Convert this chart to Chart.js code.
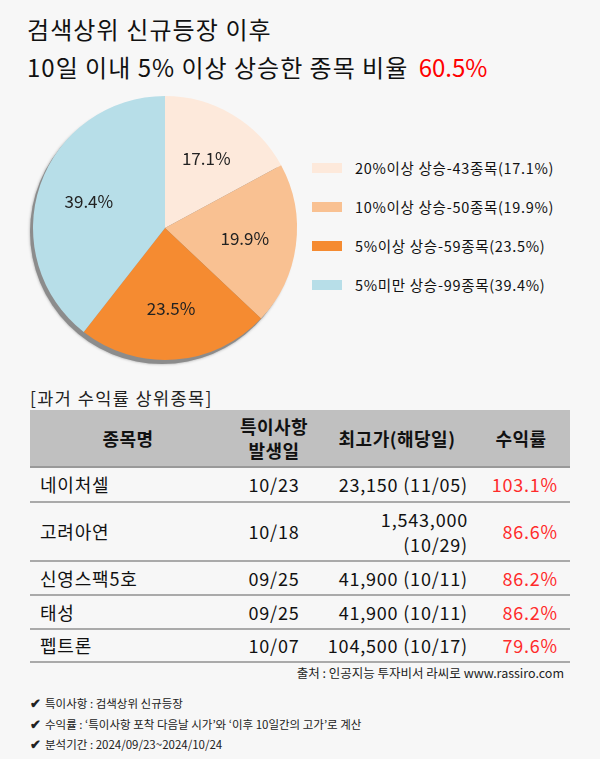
<!DOCTYPE html>
<html>
<head>
<meta charset="utf-8">
<script src="https://cdn.jsdelivr.net/npm/chart.js@4.4.0/dist/chart.umd.min.js"></script>
<style>
  body { margin: 0; background: #f7f7f7; font-family: "Noto Sans CJK KR", "Noto Sans", sans-serif; color: #111; }
  #wrap { position: relative; width: 600px; height: 759px; overflow: hidden; }
  .t1 { position: absolute; left: 27px; top: 11px; font-size: 24px; letter-spacing: 1.1px; white-space: nowrap; }
  .t2 { position: absolute; left: 27px; top: 49px; font-size: 24px; letter-spacing: 1px; white-space: nowrap; }
  .t2 .red { color: #ff0000; margin-left: 4px; letter-spacing: 0; }
  #pieBox { position: absolute; left: 25px; top: 88px; width: 280px; height: 280px; }
  #legend { position: absolute; left: 312px; top: 157px; }
  .li { height: 39px; display: flex; align-items: flex-start; font-size: 14.5px; letter-spacing: 0.7px; white-space: nowrap; }
  .li span.box { width: 30px; height: 10px; margin-top: 6px; margin-right: 13px; display: inline-block; }
  .sub { position: absolute; left: 30px; top: 385px; font-size: 17.5px; letter-spacing: 1.4px; color: #222; }
  table { position: absolute; left: 30px; top: 410px; width: 540px; border-collapse: collapse; }
  th { background: #c0c0c0; font-size: 18px; font-weight: bold; height: 56px; line-height: 24px; padding: 0; border-bottom: 2px solid #999; color: #111; letter-spacing: 0.5px; }
  td { font-size: 18px; border-bottom: 2px solid #aaa; padding: 0; line-height: 25px; color: #111; letter-spacing: 0.8px; }
  td.n { text-align: left; padding-left: 10px; }
  td.d { text-align: center; }
  td.p { text-align: right; padding-right: 4px; }
  td.r { text-align: right; padding-right: 12px; color: #ff2b2b; }
  .src { position: absolute; right: 36px; top: 663px; font-size: 12.5px; color: #222; }
  .notes { position: absolute; left: 30px; top: 693px; font-size: 11.5px; color: #222; }
  .notes div { height: 20.5px; }
  .notes b { font-weight: bold; margin-right: 4px; font-size: 13px; }
</style>
</head>
<body>
<div id="wrap">
  <div class="t1">검색상위 신규등장 이후</div>
  <div class="t2">10일 이내 5% 이상 상승한 종목 비율 <span class="red">60.5%</span></div>
  <div id="pieBox"><canvas id="pie"></canvas></div>
  <div id="legend"></div>
  <div class="sub">[과거 수익률 상위종목]</div>
  <table id="tbl"></table>
  <div class="src">출처 : 인공지능 투자비서 라씨로 www.rassiro.com</div>
  <div class="notes">
    <div><b>✔</b>특이사항 : 검색상위 신규등장</div>
    <div><b>✔</b>수익률 : ‘특이사항 포착 다음날 시가’와 ‘이후 10일간의 고가’로 계산</div>
    <div><b>✔</b>분석기간 : 2024/09/23~2024/10/24</div>
  </div>
</div>
<script>
// pie data
var labels = ['20%이상 상승', '10%이상 상승', '5%이상 상승', '5%미만 상승'];
var counts = [43, 50, 59, 99];
var shares = [17.1, 19.9, 23.5, 39.4];
var colors = ['#fde9db', '#f9c192', '#f58b31', '#b7dee8'];

// table data
var stockNames = ['네이처셀', '고려아연', '신영스팩5호', '태성', '펩트론'];
var eventDates = ['10/23', '10/18', '09/25', '09/25', '10/07'];
var highPrices = ['23,150 (11/05)', '1,543,000<br>(10/29)', '41,900 (10/11)', '41,900 (10/11)', '104,500 (10/17)'];
var returns = ['103.1%', '86.6%', '86.2%', '86.2%', '79.6%'];
var rowHeights = [35, 59, 34, 34, 33];

// legend
var lg = document.getElementById('legend');
labels.forEach(function (l, i) {
    var d = document.createElement('div');
    d.className = 'li';
    d.innerHTML = '<span class="box" style="background:' + colors[i] + '"></span>' +
        l + '-' + counts[i] + '종목(' + shares[i].toFixed(1) + '%)';
    lg.appendChild(d);
});

// table
var html = '<tr><th style="width:196px">종목명</th><th style="width:96px">특이사항<br>발생일</th>' +
    '<th style="width:150px">최고가(해당일)</th><th>수익률</th></tr>';
for (var i = 0; i < stockNames.length; i++) {
    html += '<tr style="height:' + rowHeights[i] + 'px"><td class="n">' + stockNames[i] + '</td><td class="d">' + eventDates[i] +
        '</td><td class="p">' + highPrices[i] + '</td><td class="r">' + returns[i] + '</td></tr>';
}
document.getElementById('tbl').innerHTML = html;

// shadow behind the pie + percent labels
var pieExtras = {
    id: 'pieExtras',
    beforeDatasetsDraw: function (chart) {
        var a = chart.getDatasetMeta(0).data[0];
        var c = chart.ctx;
        c.save();
        c.fillStyle = '#8c8c8c';
        c.shadowColor = 'rgba(0,0,0,0.35)';
        c.shadowBlur = 3;
        c.beginPath();
        c.arc(a.x - 3, a.y + 4, a.outerRadius, 0, Math.PI * 2);
        c.fill();
        c.restore();
    },
    afterDatasetsDraw: function (chart) {
        var c = chart.ctx;
        c.save();
        c.font = '17px "Noto Sans CJK KR", sans-serif';
        c.fillStyle = '#222';
        c.textAlign = 'center';
        c.textBaseline = 'middle';
        chart.getDatasetMeta(0).data.forEach(function (a, i) {
            var mid = (a.startAngle + a.endAngle) / 2;
            var r = a.outerRadius * 0.61;
            c.fillText(shares[i].toFixed(1) + '%', a.x + Math.cos(mid) * r, a.y + Math.sin(mid) * r);
        });
        c.restore();
    }
};

new Chart(document.getElementById('pie'), {
    type: 'pie',
    data: {
        labels: labels,
        datasets: [{
            data: shares,
            backgroundColor: colors,
            borderWidth: 0
        }]
    },
    options: {
        responsive: true,
        maintainAspectRatio: false,
        animation: false,
        layout: { padding: 8 },
        plugins: {
            legend: { display: false },
            tooltip: { enabled: false }
        }
    },
    plugins: [pieExtras]
});
</script>
</body>
</html>
